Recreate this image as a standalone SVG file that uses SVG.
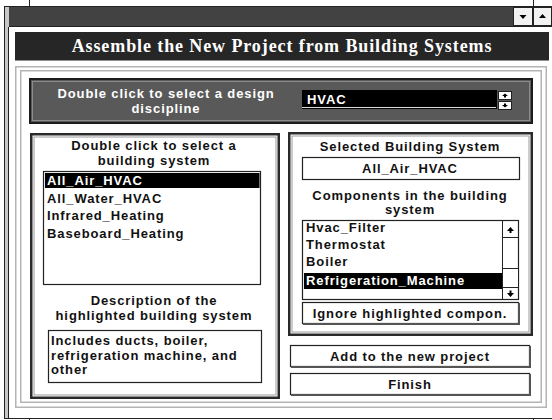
<svg xmlns="http://www.w3.org/2000/svg" width="552" height="420" viewBox="0 0 552 420">
<style>
.ui{font-family:"Liberation Sans",Arial,sans-serif;font-size:13px;font-weight:bold;letter-spacing:0.9px;fill:#111}
.w{fill:#fff}
.c{text-anchor:middle}
.ttl{font-family:"Liberation Serif","Times New Roman",serif;font-size:18px;font-weight:bold;letter-spacing:0.9px;fill:#fff;text-anchor:middle}
.frame{fill:none;stroke:#b4b4b4;stroke-width:1.5}
.panel{fill:#fff;stroke:#2a2a2a;stroke-width:2.5}
.box{fill:#fff;stroke:#222;stroke-width:1.2}
.btn{fill:#fff;stroke:#222;stroke-width:1.2}
.shadow{fill:none;stroke:#555;stroke-width:2}
.ln{stroke:#222;stroke-width:1}
</style>
<rect width="552" height="420" fill="#fff"/>
<g id="window">
  <line class="ln" x1="29.5" y1="0" x2="29.5" y2="6"/>
  <line class="ln" x1="533.5" y1="0" x2="533.5" y2="6"/>
  <line class="ln" x1="29.5" y1="418" x2="29.5" y2="420"/>
  <line class="ln" x1="533.5" y1="418" x2="533.5" y2="420"/>
  <rect x="4" y="6" width="5" height="412" fill="#c8c8c8"/>
  <line class="ln" x1="4.5" y1="6" x2="4.5" y2="418.5"/>
  <line class="ln" x1="8.5" y1="27" x2="8.5" y2="418"/>
  <line class="ln" x1="4" y1="6.5" x2="552" y2="6.5"/>
  <line class="ln" x1="4" y1="418.5" x2="552" y2="418.5"/>
</g>
<g id="titlebar">
  <rect x="9" y="7" width="543" height="19.5" fill="#424242"/>
  <line class="ln" x1="9" y1="26.5" x2="552" y2="26.5"/>
  <rect x="513.5" y="7.5" width="19" height="18" fill="#f2f2f2" stroke="#222" stroke-width="1"/>
  <path d="M519.5,15 L526.5,15 L523,19 Z" fill="#000"/>
  <rect x="533.5" y="7.5" width="18" height="18" fill="#f2f2f2" stroke="#222" stroke-width="1"/>
  <path d="M539,18 L546,18 L542.5,14 Z" fill="#000"/>
</g>
<g id="banner">
  <rect x="15" y="32" width="534" height="28.5" fill="#262626"/>
  <text class="ttl" x="282" y="52">Assemble the New Project from Building Systems</text>
</g>
<g id="outer-frame">
  <rect class="frame" x="15.75" y="66.75" width="530.5" height="340.5"/>
  <rect class="frame" x="20.75" y="70.75" width="520.5" height="331.5"/>
</g>
<g id="discipline-panel">
  <rect x="30" y="79" width="502" height="44" fill="#595959" stroke="#1c1c1c" stroke-width="2"/>
  <rect x="32.5" y="81.5" width="497" height="39" fill="none" stroke="#8c8c8c" stroke-width="1"/>
  <text class="ui w c" x="166" y="98">Double click to select a design</text>
  <text class="ui w c" x="166" y="113">discipline</text>
  <rect x="302" y="90" width="195" height="19" fill="#000"/>
  <line x1="302" y1="107.5" x2="496" y2="107.5" stroke="#ddd" stroke-width="1"/>
  <text class="ui w" x="307" y="104">HVAC</text>
  <rect x="498.5" y="91.5" width="13" height="8" fill="#fff" stroke="#222" stroke-width="1"/>
  <path d="M502,96 L505,93.5 L508,96 L506,96 L506,97.5 L504,97.5 L504,96 Z" fill="#000"/>
  <rect x="498.5" y="101.5" width="13" height="8" fill="#fff" stroke="#222" stroke-width="1"/>
  <path d="M502,105 L505,107.5 L508,105 L506,105 L506,103.5 L504,103.5 L504,105 Z" fill="#000"/>
</g>
<g id="building-system-panel">
  <rect class="panel" x="31.25" y="134.25" width="247.5" height="263.5"/>
  <rect x="34" y="137" width="242" height="258" fill="none" stroke="#9a9a9a" stroke-width="1"/>
  <text class="ui c" x="154" y="150">Double click to select a</text>
  <text class="ui c" x="154" y="165">building system</text>
  <rect class="box" x="43.5" y="171.5" width="217" height="113"/>
  <rect x="45" y="173" width="214.5" height="15" fill="#000"/>
  <text class="ui w" x="47" y="185">All_Air_HVAC</text>
  <text class="ui" x="47" y="203">All_Water_HVAC</text>
  <text class="ui" x="47" y="220">Infrared_Heating</text>
  <text class="ui" x="47" y="238">Baseboard_Heating</text>
  <text class="ui c" x="154" y="305">Description of the</text>
  <text class="ui c" x="154" y="320">highlighted building system</text>
  <rect class="box" x="48.5" y="330.5" width="213" height="52"/>
  <text class="ui" x="51" y="345">Includes ducts, boiler,</text>
  <text class="ui" x="51" y="360">refrigeration machine, and</text>
  <text class="ui" x="51" y="374">other</text>
</g>
<g id="selected-system-panel">
  <rect class="panel" x="289.25" y="133.25" width="242.5" height="201.5"/>
  <rect x="292" y="136" width="237" height="196" fill="none" stroke="#9a9a9a" stroke-width="1"/>
  <text class="ui c" x="410" y="151">Selected Building System</text>
  <rect class="box" x="302.5" y="157.5" width="217" height="22"/>
  <text class="ui c" x="410" y="173">All_Air_HVAC</text>
  <text class="ui c" x="410" y="200">Components in the building</text>
  <text class="ui c" x="410" y="214">system</text>
  <rect class="box" x="302.5" y="220.5" width="216" height="79"/>
  <rect x="304" y="273" width="198" height="16" fill="#000"/>
  <text class="ui" x="306" y="232">Hvac_Filter</text>
  <text class="ui" x="306" y="249">Thermostat</text>
  <text class="ui" x="306" y="266">Boiler</text>
  <text class="ui w" x="306" y="285">Refrigeration_Machine</text>
  <line class="ln" x1="502.5" y1="220.5" x2="502.5" y2="299.5"/>
  <line class="ln" x1="502.5" y1="237.5" x2="518.5" y2="237.5"/>
  <path d="M507,231 L510.5,227 L514,231 L511.5,231 L511.5,233 L509.5,233 L509.5,231 Z" fill="#000"/>
  <rect x="502.5" y="268.5" width="16" height="19" fill="#fff" stroke="#222" stroke-width="1"/>
  <line class="ln" x1="502.5" y1="287.5" x2="518.5" y2="287.5"/>
  <path d="M507,293 L510.5,297 L514,293 L511.5,293 L511.5,290.5 L509.5,290.5 L509.5,293 Z" fill="#000"/>
</g>
<g id="ignore-button">
  <rect class="btn" x="302.5" y="302.5" width="216" height="21"/>
  <path class="shadow" d="M519,303 L519,324 L303,324"/>
  <text class="ui c" x="410" y="318">Ignore highlighted compon.</text>
</g>
<g id="add-button">
  <rect class="btn" x="290.5" y="345.5" width="239" height="21"/>
  <path class="shadow" d="M530,346 L530,367 L291,367"/>
  <text class="ui c" x="410" y="361">Add to the new project</text>
</g>
<g id="finish-button">
  <rect class="btn" x="290.5" y="373.5" width="239" height="21"/>
  <path class="shadow" d="M530,374 L530,395 L291,395"/>
  <text class="ui c" x="410" y="389">Finish</text>
</g>
</svg>
